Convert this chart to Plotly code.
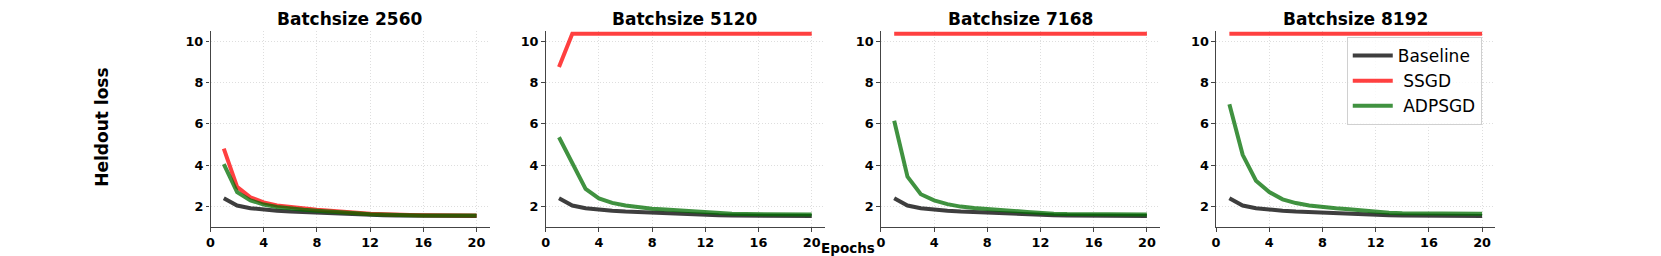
import plotly.graph_objects as go

W, H = 1661, 256

epochs = list(range(1, 21))
titles = ["Batchsize 2560", "Batchsize 5120", "Batchsize 7168", "Batchsize 8192"]
series_names = ["Baseline", "\u00a0SSGD", "\u00a0ADPSGD"]

baseline = [2.40, 2.05, 1.92, 1.85, 1.80, 1.76, 1.73, 1.70, 1.68, 1.66,
            1.63, 1.60, 1.58, 1.57, 1.56, 1.56, 1.55, 1.55, 1.55, 1.55]

ssgd_2560 = [4.80, 2.95, 2.45, 2.20, 2.05, 1.97, 1.90, 1.85, 1.80, 1.77,
             1.70, 1.65, 1.62, 1.60, 1.59, 1.58, 1.58, 1.57, 1.57, 1.57]
adpsgd_2560 = [4.05, 2.70, 2.30, 2.10, 1.98, 1.90, 1.85, 1.80, 1.77, 1.74,
               1.68, 1.63, 1.60, 1.58, 1.58, 1.57, 1.57, 1.57, 1.57, 1.57]

ssgd_5120 = [8.75] + [10.35] * 19
adpsgd_5120 = [5.35, 4.15, 2.85, 2.40, 2.18, 2.05, 1.96, 1.90, 1.86, 1.82,
               1.76, 1.70, 1.67, 1.65, 1.64, 1.63, 1.62, 1.62, 1.62, 1.62]

ssgd_7168 = [10.35] * 20
adpsgd_7168 = [6.15, 3.45, 2.60, 2.30, 2.12, 2.00, 1.93, 1.87, 1.83, 1.79,
               1.74, 1.69, 1.66, 1.64, 1.63, 1.62, 1.62, 1.62, 1.62, 1.62]

ssgd_8192 = [10.35] * 20
adpsgd_8192 = [6.95, 4.50, 3.25, 2.70, 2.35, 2.17, 2.05, 1.97, 1.92, 1.87,
               1.80, 1.73, 1.70, 1.68, 1.67, 1.66, 1.65, 1.65, 1.65, 1.65]

ssgd_all = [ssgd_2560, ssgd_5120, ssgd_7168, ssgd_8192]
adpsgd_all = [adpsgd_2560, adpsgd_5120, adpsgd_7168, adpsgd_8192]

x_ticks = [0, 4, 8, 12, 16, 20]
y_ticks = [2, 4, 6, 8, 10]

colors = ["rgba(20,20,20,0.82)", "rgba(255,0,0,0.75)", "rgba(0,110,0,0.75)"]

# panel geometry in pixels
panel_left = [207, 543, 879, 1215]
panel_w = 280
top_px, bot_px = 30.7, 227.3

fig = go.Figure()
font_fam = "DejaVu Sans"

for i in range(4):
    ax = "" if i == 0 else str(i + 1)
    xa = "x" + ax
    ya = "y" + ax
    for j, ys in enumerate([baseline, ssgd_all[i], adpsgd_all[i]]):
        fig.add_trace(go.Scatter(
            x=epochs, y=ys, mode="lines", name=series_names[j],
            line=dict(color=colors[j], width=4),
            xaxis=xa, yaxis=ya, showlegend=(i == 3),
            legendgroup="g%d" % j,
        ))
    x0 = panel_left[i] / W
    x1 = (panel_left[i] + panel_w) / W
    common = dict(
        showline=True, linecolor="#444", linewidth=1.3,
        ticks="outside", ticklen=3.5, tickcolor="#444", tickwidth=1.2,
        showgrid=True, gridcolor="#dedede", griddash="1px,2px", gridwidth=1,
        zeroline=False,
        tickfont=dict(family=font_fam, size=12.8, color="black", weight="bold"),
    )
    fig.layout["xaxis" + ax] = dict(
        domain=[x0, x1], range=[0, 21], tickvals=x_ticks,
        anchor=ya, **common)
    fig.layout["yaxis" + ax] = dict(
        domain=[1 - bot_px / H, 1 - top_px / H], range=[1.0, 10.5],
        tickvals=y_ticks, anchor=xa, **common)
    fig.add_annotation(
        x=(x0 + x1) / 2, y=1 - 19 / H, xref="paper", yref="paper",
        text="<b>" + titles[i] + "</b>", showarrow=False,
        font=dict(family=font_fam, size=17, color="black"),
        xanchor="center", yanchor="middle")

fig.add_annotation(
    x=98 / W, y=1 - 127 / H, xref="paper", yref="paper",
    text="<b>Heldout loss</b>", textangle=-90, showarrow=False,
    font=dict(family=font_fam, size=17, color="black"),
    xanchor="center", yanchor="middle")

fig.add_annotation(
    x=846 / W, y=1 - 248 / H, xref="paper", yref="paper",
    text="<b>Epochs</b>", showarrow=False,
    font=dict(family=font_fam, size=13.5, color="black"),
    xanchor="center", yanchor="middle")

fig.update_layout(
    width=W, height=H,
    margin=dict(l=0, r=0, t=0, b=0),
    paper_bgcolor="white", plot_bgcolor="white",
    showlegend=True,
    legend=dict(
        x=1346 / W, y=1 - 37 / H, xanchor="left", yanchor="top",
        bgcolor="rgba(255,255,255,0.8)", bordercolor="#d0d0d0", borderwidth=1,
        font=dict(family=font_fam, size=17, color="black"),
        tracegroupgap=0, itemwidth=40,
    ),
)

fig.write_html(
    "out.html",
    config={"displayModeBar": False},
    post_script="document.body.style.margin='0';document.body.style.padding='0';"
                "document.body.style.overflow='hidden';",
)
